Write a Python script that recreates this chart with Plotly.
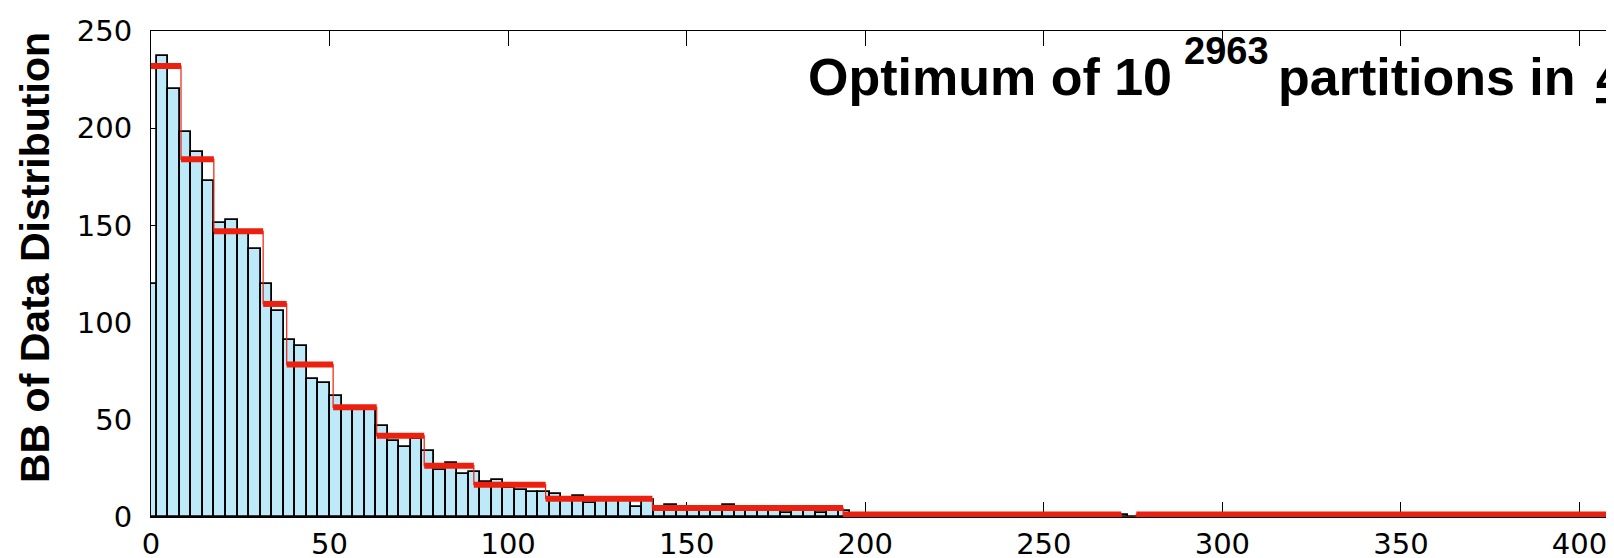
import numpy as np
import plotly.graph_objects as go

# ---- data -------------------------------------------------------------
bin_start = -1.67          # left edge of first histogram bin
bin_width = 3.237          # histogram bin width
counts = [120, 237, 220, 198, 188, 173, 151, 153, 146, 138,
          120, 106, 91, 88, 71, 69, 62, 55, 55, 55,
          47, 39, 36, 40, 34, 24, 28, 22, 23, 18,
          19, 15, 14, 13, 13, 12, 8, 11, 7, 8,
          9, 8, 5, 9, 5, 6, 4, 5, 5, 4,
          6, 3, 5, 4, 5, 2, 5, 4, 2, 3,
          3, 1, 1, 1, 1, 1, 1, 1, 1, 1,
          1, 1, 1, 1, 1, 1, 1, 1, 1, 1,
          1, 1, 1, 1, 1, 0, 1, 1, 1, 1,
          1, 1, 1, 1, 1, 1, 1, 1, 1, 1,
          1, 1, 1, 1, 1, 1, 1, 1, 1, 1,
          1, 1, 1, 1, 1, 1, 1, 1, 1, 1,
          1, 1, 1, 1, 1, 1, 1, 1]

block_edges = [-1.67, 8.4, 17.6, 31.4, 38.0, 51.0, 63.2, 76.5, 90.4,
               110.5, 140.4, 193.8, 271.7, 275.9, 412.7]
block_levels = [232, 184, 147, 109.6, 78.4, 56.4, 41.8, 26.4, 16.6,
                9.4, 4.6, 1.3, 0, 1.3]

x_ticks = [0, 50, 100, 150, 200, 250, 300, 350, 400]
y_ticks = [0, 50, 100, 150, 200, 250]

y_title = "BB of Data Distribution"
note_main = "Optimum of 10"
note_exp = "2963"
note_tail = "partitions in"
note_cut = "<span style='text-decoration:underline'>4</span>"

# ---- derived ------------------------------------------------------------
centers = [bin_start + bin_width * (i + 0.5) for i in range(len(counts))]

step_x = list(block_edges)
step_y = list(block_levels) + [block_levels[-1]]

seg_x, seg_y = [], []
for i, lev in enumerate(block_levels):
    if lev <= 0:
        continue
    seg_x += [block_edges[i], block_edges[i + 1], None]
    seg_y += [lev, lev, None]

FONT = "Liberation Sans, Arial, Helvetica, sans-serif"
TICKFONT = "DejaVu Sans, Liberation Sans, sans-serif"
RED = "rgb(236,32,14)"

# layout geometry (pixels)
W, H = 1614, 558
L, R, T, B = 143, 0, 23, 49
PW, PH = W - L - R, H - T - B


def px_x(p):
    return (p - L) / PW


def px_y(p):
    return (H - B - p) / PH


fig = go.Figure()
fig.add_trace(go.Bar(
    x=centers, y=counts, width=bin_width,
    marker=dict(color="rgb(190,233,249)",
                line=dict(color="black", width=1.8)),
    showlegend=False, hoverinfo="x+y"))
fig.add_trace(go.Scatter(
    x=step_x, y=step_y, mode="lines", line_shape="hv",
    line=dict(color=RED, width=1.2), showlegend=False, hoverinfo="skip"))
fig.add_trace(go.Scatter(
    x=seg_x, y=seg_y, mode="lines",
    line=dict(color=RED, width=6), showlegend=False, hoverinfo="skip"))

bold = dict(family=FONT, color="black", weight="bold")
fig.add_annotation(x=px_x(798), y=px_y(100), xref="paper", yref="paper",
                   xanchor="left", yanchor="bottom", showarrow=False,
                   text=note_main, font=dict(size=52, **bold))
fig.add_annotation(x=px_x(1174), y=px_y(66), xref="paper", yref="paper",
                   xanchor="left", yanchor="bottom", showarrow=False,
                   text=note_exp, font=dict(size=38, **bold))
fig.add_annotation(x=px_x(1268), y=px_y(100), xref="paper", yref="paper",
                   xanchor="left", yanchor="bottom", showarrow=False,
                   text=note_tail, font=dict(size=52, **bold))
fig.add_annotation(x=px_x(1586), y=px_y(100), xref="paper", yref="paper",
                   xanchor="left", yanchor="bottom", showarrow=False,
                   text=note_cut, font=dict(size=52, **bold))
fig.add_annotation(x=px_x(27), y=px_y(250), xref="paper", yref="paper",
                   xanchor="center", yanchor="middle", showarrow=False,
                   textangle=-90, text=y_title,
                   font=dict(size=41, **bold))

axis_common = dict(
    showline=True, linecolor="black", linewidth=1.2, mirror="ticks",
    ticks="inside", ticklen=15, tickwidth=1, tickcolor="black",
    showgrid=False, zeroline=False, layer="below traces",
    tickfont=dict(family=TICKFONT, size=29, color="black"))

fig.update_xaxes(range=[0, 411.9], tickvals=x_ticks,
                 ticktext=[str(v) for v in x_ticks],
                 ticklabelstandoff=1, **axis_common)
fig.update_yaxes(range=[0, 250], tickvals=y_ticks,
                 ticktext=[str(v) for v in y_ticks],
                 ticklabelstandoff=12, **axis_common)

fig.update_layout(
    width=W, height=H,
    margin=dict(l=L, r=R, t=T, b=B),
    paper_bgcolor="white", plot_bgcolor="white",
    bargap=0,
)

fig.write_html("out.html")
